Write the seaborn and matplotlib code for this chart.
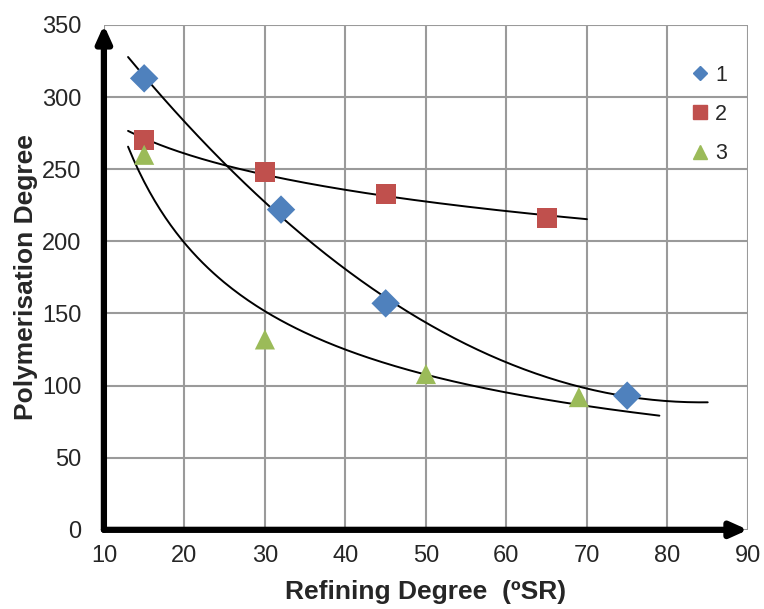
import numpy as np
import pandas as pd
import matplotlib
matplotlib.use("Agg")
import matplotlib.pyplot as plt
from matplotlib.lines import Line2D
import seaborn as sns

# data
x1 = [15, 32, 45, 75]
y1 = [313, 222, 157, 93]
x2 = [15, 30, 45, 65]
y2 = [270, 248, 233, 216]
x3 = [15, 30, 50, 69]
y3 = [260, 132, 108, 92]
series_labels = ["1", "2", "3"]
x_ticks = [10, 20, 30, 40, 50, 60, 70, 80, 90]
y_ticks = [0, 50, 100, 150, 200, 250, 300, 350]

colors = {"1": "#4F81BD", "2": "#C0504D", "3": "#9BBB59"}
markers = {"1": "D", "2": "s", "3": "^"}

df = pd.concat([
    pd.DataFrame({"x": x1, "y": y1, "series": "1"}),
    pd.DataFrame({"x": x2, "y": y2, "series": "2"}),
    pd.DataFrame({"x": x3, "y": y3, "series": "3"}),
])

sns.set_style("white")
plt.rcParams["font.family"] = ["Liberation Sans", "DejaVu Sans"]

fig = plt.figure(figsize=(7.64, 6.09), dpi=100)
ax = fig.add_axes([0.136, 0.130, 0.843, 0.829])

ax.set_xlim(10, 90)
ax.set_ylim(0, 350)
ax.set_xticks(x_ticks)
ax.set_yticks(y_ticks)
ax.grid(True, color="#9a9a9a", linewidth=1.5)
ax.set_axisbelow(True)
for s in ax.spines.values():
    s.set_visible(False)

# trend lines (Excel-style fits)
xs = np.linspace(13, 85, 200)
p = np.polyfit(x1, y1, 2)
ax.plot(xs, np.polyval(p, xs), color="black", lw=1.4, zorder=2)

xs = np.linspace(13, 70, 200)
b, a = np.polyfit(np.log(x2), y2, 1)
ax.plot(xs, a + b * np.log(xs), color="black", lw=1.4, zorder=2)

xs = np.linspace(13, 79, 200)
b, a = np.polyfit(np.log(x3), np.log(y3), 1)
ax.plot(xs, np.exp(a) * xs ** b, color="black", lw=1.4, zorder=2)

sns.scatterplot(data=df, x="x", y="y", hue="series", style="series",
                palette=colors, markers=markers, s=210, linewidth=0,
                legend=False, ax=ax, zorder=3)

# arrow axes
ax.annotate("", xy=(0, 1.0), xytext=(0, 0), xycoords="axes fraction",
            arrowprops=dict(arrowstyle="-|>,head_width=0.45,head_length=1.0",
                            color="black", lw=4.5, shrinkA=0, shrinkB=0),
            annotation_clip=False)
ax.annotate("", xy=(1.0, 0), xytext=(0, 0), xycoords="axes fraction",
            arrowprops=dict(arrowstyle="-|>,head_width=0.45,head_length=1.0",
                            color="black", lw=4.5, shrinkA=0, shrinkB=0),
            annotation_clip=False)

ax.tick_params(axis="both", length=0, labelsize=17)
ax.tick_params(axis="y", pad=16)
ax.tick_params(axis="x", pad=11)
ax.set_xlabel("Refining Degree  (ºSR)", fontsize=19, fontweight="bold", labelpad=9)
ax.set_ylabel("Polymerisation Degree", fontsize=19, fontweight="bold", labelpad=3)

handles = [
    Line2D([], [], linestyle="none", marker="D", markersize=7.6, color=colors["1"]),
    Line2D([], [], linestyle="none", marker="s", markersize=10.5, color=colors["2"]),
    Line2D([], [], linestyle="none", marker="^", markersize=10.5, color=colors["3"]),
]
ax.legend(handles, series_labels, loc="upper left", bbox_to_anchor=(0.882, 0.96),
          frameon=False, fontsize=15.5, handlelength=0.8, handletextpad=0.3,
          labelspacing=0.85)

fig.savefig("out.png", dpi=100)
